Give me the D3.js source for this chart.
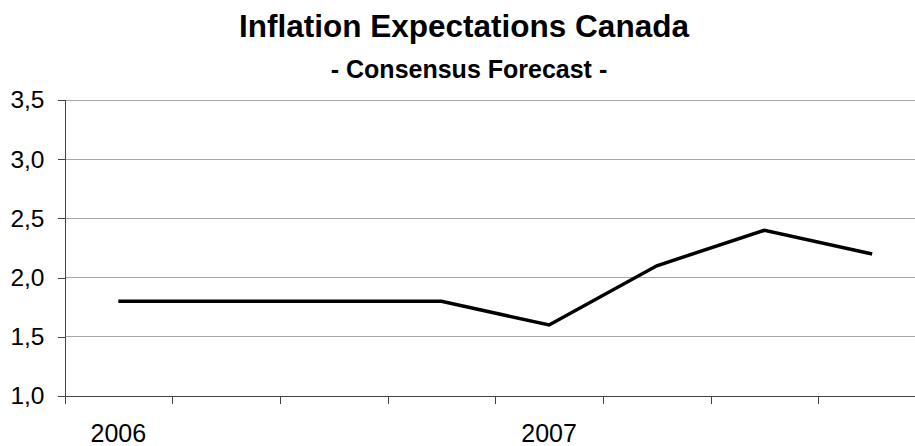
<!DOCTYPE html>
<html>
<head>
<meta charset="utf-8">
<script src="https://cdn.jsdelivr.net/npm/d3@7"></script>
<style>
  html, body { margin: 0; padding: 0; background: #fff; }
  svg { display: block; font-family: Arial, "Liberation Sans", sans-serif; }
</style>
</head>
<body>
<svg id="chart" width="915" height="446"></svg>
<script>
// ---- data ----
const periods = ["2006 Q1", "2006 Q2", "2006 Q3", "2006 Q4", "2007 Q1", "2007 Q2", "2007 Q3", "2007 Q4"];
const periodLabels = ["2006", "", "", "", "2007", "", "", ""];
const inflation = [1.8, 1.8, 1.8, 1.8, 1.6, 2.1, 2.4, 2.2];
const yTicks = [1.0, 1.5, 2.0, 2.5, 3.0, 3.5];
const title = "Inflation Expectations Canada";
const subtitle = "- Consensus Forecast -";

(function () {
// ---- layout ----
const svg = d3.select("#chart");
const mLeft = 64.5, mRight = 926, mTop = 100, mBottom = 396;

const x = d3.scaleBand().domain(periods).range([mLeft, mRight]).padding(0);
const xb = d3.scaleLinear().domain([0, periods.length]).range([mLeft, mRight]);
const y = d3.scaleLinear().domain([1.0, 3.5]).range([mBottom, mTop]);
const fmt = v => d3.format(".1f")(v).replace(".", ",");

// gridlines
svg.append("g")
  .selectAll("line")
  .data(yTicks.filter(v => v > 1.0))
  .join("line")
  .attr("x1", mLeft).attr("x2", mRight)
  .attr("y1", d => y(d)).attr("y2", d => y(d))
  .attr("stroke", "#a8a8a8").attr("stroke-width", 1)
  .attr("shape-rendering", "crispEdges");

// y axis
const yAxis = svg.append("g")
  .attr("transform", `translate(${mLeft},0)`)
  .call(d3.axisLeft(y).tickValues(yTicks).tickFormat(fmt).tickSize(7).tickPadding(13));
yAxis.select(".domain").attr("stroke", "#444").attr("shape-rendering", "crispEdges");
yAxis.selectAll(".tick line").attr("stroke", "#444").attr("shape-rendering", "crispEdges");
yAxis.selectAll(".tick text")
  .attr("font-size", 24.5).attr("fill", "#000")
  .attr("font-family", "Arial, 'Liberation Sans', sans-serif");

// x axis ticks at band boundaries
const xAxis = svg.append("g")
  .attr("transform", `translate(0,${mBottom})`)
  .call(d3.axisBottom(xb).tickValues(d3.range(periods.length + 1)).tickFormat("").tickSize(8).tickSizeOuter(0));
xAxis.select(".domain").attr("stroke", "#444").attr("shape-rendering", "crispEdges");
xAxis.selectAll(".tick line").attr("stroke", "#444").attr("shape-rendering", "crispEdges");

// x labels (centered on band)
svg.append("g")
  .selectAll("text")
  .data(periods)
  .join("text")
  .attr("x", d => x(d) + x.bandwidth() / 2)
  .attr("y", 442)
  .attr("text-anchor", "middle")
  .attr("font-size", 25)
  .attr("fill", "#000")
  .text((d, i) => periodLabels[i]);

// line
const line = d3.line()
  .x((d, i) => x(periods[i]) + x.bandwidth() / 2)
  .y(d => y(d));
svg.append("path")
  .datum(inflation)
  .attr("d", line)
  .attr("fill", "none")
  .attr("stroke", "#000")
  .attr("stroke-width", 3.5)
  .attr("stroke-linejoin", "miter");

// titles
svg.append("text")
  .attr("x", 464).attr("y", 37)
  .attr("text-anchor", "middle")
  .attr("font-size", 31.5).attr("font-weight", "bold")
  .text(title);
svg.append("text")
  .attr("x", 469).attr("y", 78)
  .attr("text-anchor", "middle")
  .attr("font-size", 25).attr("font-weight", "bold")
  .text(subtitle);
})();
</script>
</body>
</html>
